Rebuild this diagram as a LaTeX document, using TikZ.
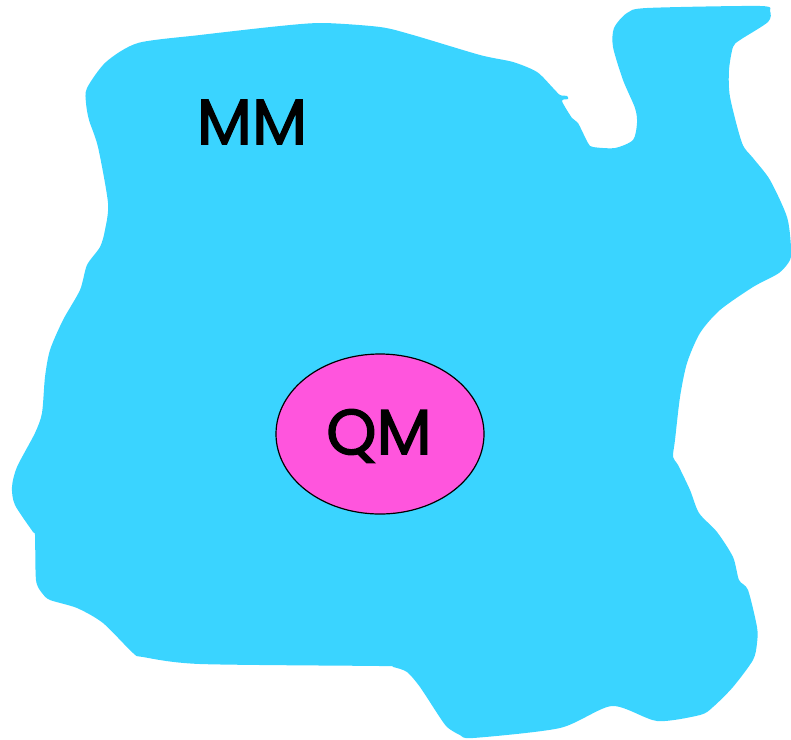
\documentclass[tikz,border=0pt]{standalone}
\usepackage{fontspec}
\newfontfamily\lblfont[FakeBold=2]{Poppins}
\usetikzlibrary{shapes.geometric}
\definecolor{mmblue}{HTML}{3AD4FF}
\definecolor{qmpink}{HTML}{FF55DD}
\tikzset{
  region/.style={fill=mmblue, draw=none},
  qmbox/.style={ellipse, draw=black, line width=1.2pt, fill=qmpink, minimum width=208pt, minimum height=160pt, inner sep=0pt},
  lbl/.style={font=\lblfont\fontsize{64}{64}\selectfont, text=black, inner sep=0pt}
}
\begin{document}
\begin{tikzpicture}[x=1pt,y=-1pt]
\useasboundingbox (0,0) rectangle (791,739);
\path[region] plot[smooth cycle, tension=0.45] coordinates {
(138,43) (200,35) (280,26) (323,23) (380,27) (413,35) (480,55) (513,62) (537,72) (553,88) (560,95)
(567,96) (568,99) (562,101) (572,118) (578,123) (588,143) (593,147) (615,148) (633,140) (637,123)
(635,108) (623,80) (613,47) (614,28) (627,13) (647,8) (760,6) (770,11) (768,22) (740,40) (733,47)
(729,70) (730,97) (742,143) (753,158) (770,180) (787,217) (791,247) (790,260) (779,273) (753,287)
(720,310) (700,333) (687,363) (680,397) (675,440) (673,457) (678,465) (690,490) (699,513) (717,532)
(733,557) (739,580) (748,590) (757,627) (757,643) (753,660) (733,687) (713,707) (700,715) (657,721)
(612,706) (560,728) (473,738) (460,735) (447,727) (437,713) (420,687) (407,672) (393,667) (380,666)
(200,664) (143,657) (133,653) (103,623) (77,608) (50,600) (42,593) (36,580) (35,535) (33,532)
(15,505) (12,487) (17,467) (35,433) (42,413) (45,377) (50,350) (63,320) (80,290) (87,265) (100,247)
(105,230) (108,203) (98,147) (89,120) (86,103) (87,88) (106,62)};
\node[lbl] (mm) at (252,122) {MM};
\node[qmbox] (qm) at (380,434) {};
\node[lbl] (qmtext) at (379,436) {QM};
\end{tikzpicture}
\end{document}
